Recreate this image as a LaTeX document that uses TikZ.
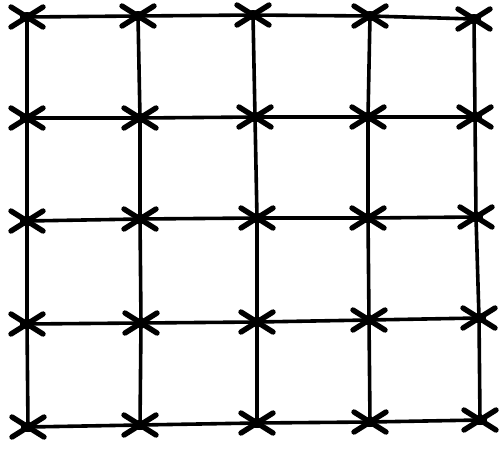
\documentclass[tikz,border=0pt]{standalone}
\begin{document}
\begin{tikzpicture}[x=1pt,y=-1pt,
  gridline/.style={line width=3.6pt,line cap=round,black},
  xmark/.style={line width=5.4pt,line cap=round,black}]
\useasboundingbox (0,0) rectangle (501,448);
% node positions (row r, column c)
\coordinate (n-0-0) at (27,17);
\coordinate (n-0-1) at (138,16);
\coordinate (n-0-2) at (253,15);
\coordinate (n-0-3) at (370,16);
\coordinate (n-0-4) at (474,19);
\coordinate (n-1-0) at (27,118);
\coordinate (n-1-1) at (140,118);
\coordinate (n-1-2) at (255,117);
\coordinate (n-1-3) at (368,117);
\coordinate (n-1-4) at (475,117);
\coordinate (n-2-0) at (27,221);
\coordinate (n-2-1) at (140,219);
\coordinate (n-2-2) at (257,218);
\coordinate (n-2-3) at (368,218);
\coordinate (n-2-4) at (476,217);
\coordinate (n-3-0) at (27,324);
\coordinate (n-3-1) at (141,323);
\coordinate (n-3-2) at (257,322);
\coordinate (n-3-3) at (369,320);
\coordinate (n-3-4) at (479,318);
\coordinate (n-4-0) at (28,427);
\coordinate (n-4-1) at (140,425);
\coordinate (n-4-2) at (257,423);
\coordinate (n-4-3) at (370,422);
\coordinate (n-4-4) at (480,420);
% horizontal lines
\foreach \r in {0,...,4}{
  \foreach \c [evaluate=\c as \d using int(\c+1)] in {0,...,3}{
    \draw[gridline] (n-\r-\c) -- (n-\r-\d);
  }
}
% vertical lines
\foreach \c in {0,...,4}{
  \foreach \r [evaluate=\r as \s using int(\r+1)] in {0,...,3}{
    \draw[gridline] (n-\r-\c) -- (n-\s-\c);
  }
}
% X marks
\foreach \r in {0,...,4}{
  \foreach \c in {0,...,4}{
    \draw[xmark] (n-\r-\c) ++(-16,-10) -- ++(32,20);
    \draw[xmark] (n-\r-\c) ++(-16,10) -- ++(32,-20);
    \fill[black] (n-\r-\c) ellipse (7 and 5);
  }
}
\end{tikzpicture}
\end{document}
